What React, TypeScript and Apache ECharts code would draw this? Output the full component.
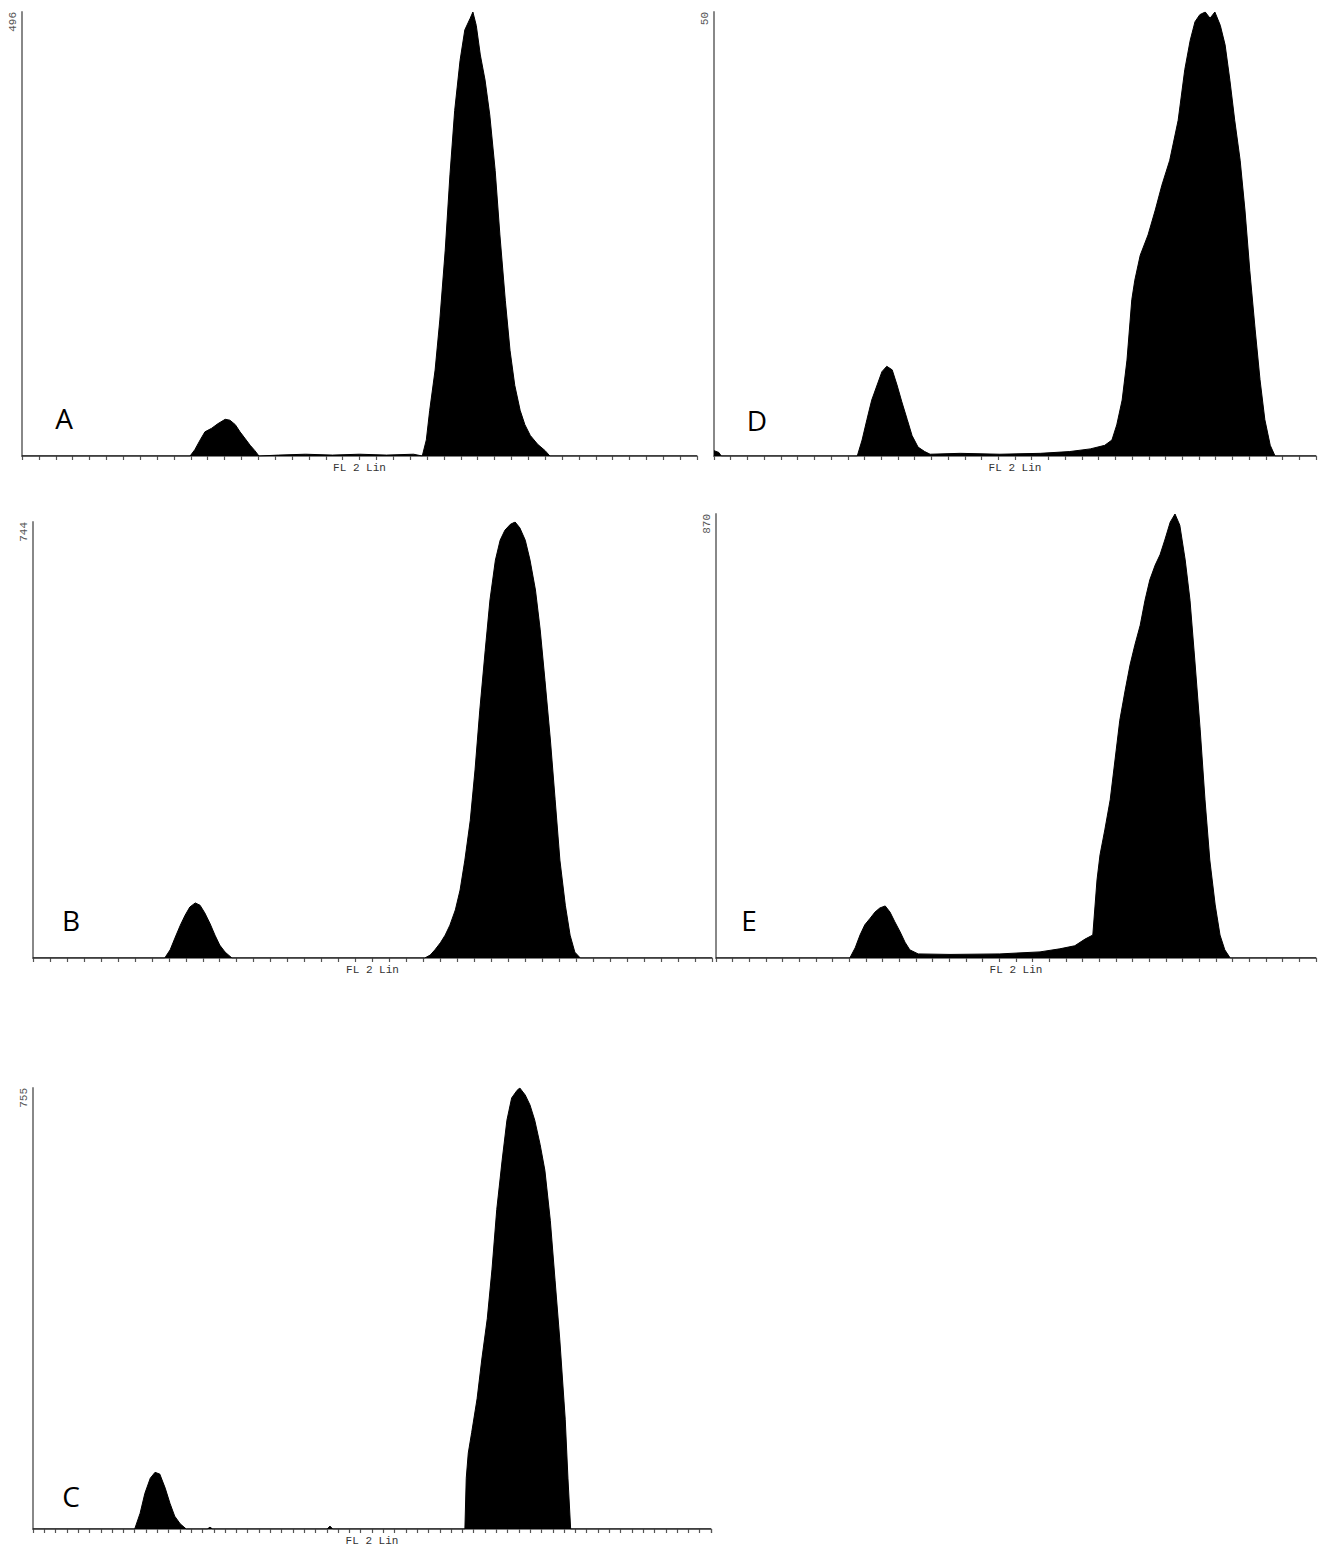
import React, { useEffect, useRef } from "react";
import * as echarts from "echarts";

// Channel scale (FL 2 Lin) 0..1000, counts per channel
const panelLabels = ["A", "D", "B", "E", "C"];
const yMaxValues = [496, 50, 744, 870, 755];
const xTickIntervals = [25, 1000 / 36, 25, 1000 / 36, 1000 / 60];
const xAxisName = "FL 2 Lin";

const histA: number[][] = [
  [0, 0], [150, 0], [249, 0], [256, 7], [264, 18], [271, 27], [281, 31], [290, 36], [301, 41],
  [308, 40], [316, 35], [323, 27], [330, 20], [338, 12], [345, 6], [351, 0],
  [380, 1], [420, 2], [460, 1], [500, 2], [540, 1], [580, 2], [593, 0],
  [599, 18], [604, 51], [612, 96], [619, 152], [627, 230], [634, 314], [641, 386], [649, 442],
  [656, 476], [664, 489], [668, 496], [673, 481], [679, 448], [686, 420], [693, 381], [701, 319],
  [708, 247], [716, 174], [723, 118], [730, 79], [738, 51], [745, 35], [753, 23], [764, 13],
  [775, 6], [782, 0], [1000, 0],
];

const histD: number[][] = [
  [0, 0.6], [8, 0.4], [12, 0], [238, 0], [246, 1.8], [254, 4.1], [262, 6.3], [271, 8.0], [279, 9.5],
  [287, 10.1], [296, 9.7], [304, 8.0], [312, 6.1], [321, 4.1], [329, 2.3], [339, 1.0], [350, 0.5],
  [359, 0.2], [409, 0.3], [475, 0.2], [542, 0.3], [591, 0.5], [625, 0.8], [649, 1.2], [661, 1.8],
  [669, 3.5], [678, 6.3], [686, 10.8], [694, 17.6], [699, 19.8], [708, 22.6], [721, 24.9],
  [733, 27.7], [744, 30.5], [757, 33.3], [771, 37.8], [782, 43.5], [791, 46.8], [799, 48.9],
  [807, 49.7], [816, 50], [824, 49.3], [832, 50], [841, 48.5], [849, 46.3], [857, 42.3],
  [865, 37.8], [874, 33.3], [882, 27.7], [890, 20.9], [899, 14.2], [907, 8.6], [915, 4.1],
  [924, 1.2], [932, 0], [1000, 0],
];

const histB: number[][] = [
  [0, 0], [194, 0], [202, 14], [209, 34], [217, 56], [224, 73], [231, 87], [239, 94], [246, 90],
  [253, 77], [261, 58], [268, 39], [275, 22], [283, 10], [293, 0], [577, 0], [585, 5], [592, 14],
  [600, 26], [607, 39], [614, 56], [622, 82], [629, 116], [636, 167], [644, 235], [651, 321],
  [658, 423], [666, 525], [673, 611], [681, 679], [688, 713], [695, 730], [703, 740], [710, 744],
  [717, 734], [725, 713], [732, 679], [740, 628], [747, 560], [754, 474], [762, 372], [769, 270],
  [776, 167], [784, 90], [791, 39], [798, 10], [806, 0], [1000, 0],
];

const histE: number[][] = [
  [0, 0], [223, 0], [232, 20], [240, 45], [248, 65], [257, 78], [265, 90], [273, 98], [282, 102],
  [290, 90], [298, 71], [307, 51], [315, 31], [323, 16], [337, 8], [390, 7], [473, 8], [540, 12],
  [573, 18], [598, 24], [615, 37], [628, 45], [635, 153], [640, 202], [648, 251], [657, 310],
  [665, 388], [673, 466], [682, 525], [690, 574], [698, 613], [707, 652], [715, 701], [723, 741],
  [732, 770], [740, 790], [748, 819], [757, 854], [765, 870], [773, 848], [782, 780], [790, 701],
  [798, 584], [807, 447], [815, 310], [823, 192], [832, 104], [840, 45], [848, 16], [857, 0],
  [1000, 0],
];

const histC: number[][] = [
  [0, 0], [150, 0], [158, 27], [165, 61], [173, 87], [180, 97], [187, 94], [195, 70], [202, 44],
  [209, 22], [217, 9], [226, 0], [257, 0], [261, 3], [265, 0], [434, 0], [438, 5], [442, 0],
  [637, 0], [639, 87], [642, 130], [647, 165], [655, 223], [662, 291], [670, 360], [677, 445],
  [684, 547], [692, 632], [699, 700], [706, 738], [714, 751], [718, 755], [726, 743], [733, 726],
  [740, 700], [748, 658], [755, 614], [763, 528], [770, 426], [777, 324], [785, 188], [789, 87],
  [793, 0], [1000, 0],
];

const histograms = [histA, histD, histB, histE, histC];

// Panel placement in pixels: [left, top, width, height]
const grids = [
  [22, 12, 675, 444],
  [714, 12, 602, 444],
  [33, 522, 679, 436],
  [716, 514, 600, 444],
  [33, 1088, 678, 443],
];
const letterPos = [
  [64, 418],
  [757, 420],
  [71, 920],
  [749, 920],
  [71, 1496],
];

export default function App() {
  const ref = useRef<HTMLDivElement>(null);
  useEffect(() => {
    if (!ref.current) return;
    const chart = echarts.init(ref.current, undefined, { renderer: "svg" });
    const option: any = {
      animation: false,
      backgroundColor: "#ffffff",
      grid: grids.map((g) => ({ left: g[0], top: g[1], width: g[2], height: g[3], containLabel: false })),
      xAxis: grids.map((_, i) => ({
        type: "value",
        gridIndex: i,
        min: 0,
        max: 1000,
        interval: xTickIntervals[i],
        name: xAxisName,
        nameLocation: "middle",
        nameGap: 6,
        nameTextStyle: {
          fontFamily: "Liberation Mono",
          fontSize: 11,
          color: "#333",
          verticalAlign: "top",
        },
        axisLine: { show: true, lineStyle: { color: "#555", width: 1.5 } },
        axisTick: { show: true, inside: false, length: 4, lineStyle: { color: "#555", width: 1.2 } },
        axisLabel: { show: false },
        splitLine: { show: false },
      })),
      yAxis: grids.map((_, i) => ({
        type: "value",
        gridIndex: i,
        min: 0,
        max: yMaxValues[i],
        interval: yMaxValues[i],
        axisLine: { show: true, lineStyle: { color: "#888", width: 2 } },
        axisTick: { show: false },
        splitLine: { show: false },
        axisLabel: {
          show: true,
          rotate: 90,
          margin: 4,
          align: "right",
          verticalAlign: "bottom",
          fontFamily: "Liberation Mono",
          fontSize: 11,
          color: "#555",
          formatter: (v: number) => (v === yMaxValues[i] ? String(yMaxValues[i]) : ""),
        },
      })),
      series: histograms.map((h, i) => ({
        type: "line",
        xAxisIndex: i,
        yAxisIndex: i,
        data: h,
        symbol: "none",
        smooth: false,
        lineStyle: { color: "#000", width: 1 },
        areaStyle: { color: "#000", opacity: 1 },
        z: 1,
      })),
      graphic: panelLabels.map((t, i) => ({
        type: "text",
        x: letterPos[i][0],
        y: letterPos[i][1],
        style: {
          text: t,
          fill: "#000",
          font: '28px "Open Sans"',
          textAlign: "center",
          textVerticalAlign: "middle",
        },
      })),
    };
    chart.setOption(option);
    return () => chart.dispose();
  }, []);
  return (
    <div
      ref={ref}
      style={{ position: "absolute", left: 0, top: 0, width: 1319, height: 1547, background: "#fff" }}
    />
  );
}
